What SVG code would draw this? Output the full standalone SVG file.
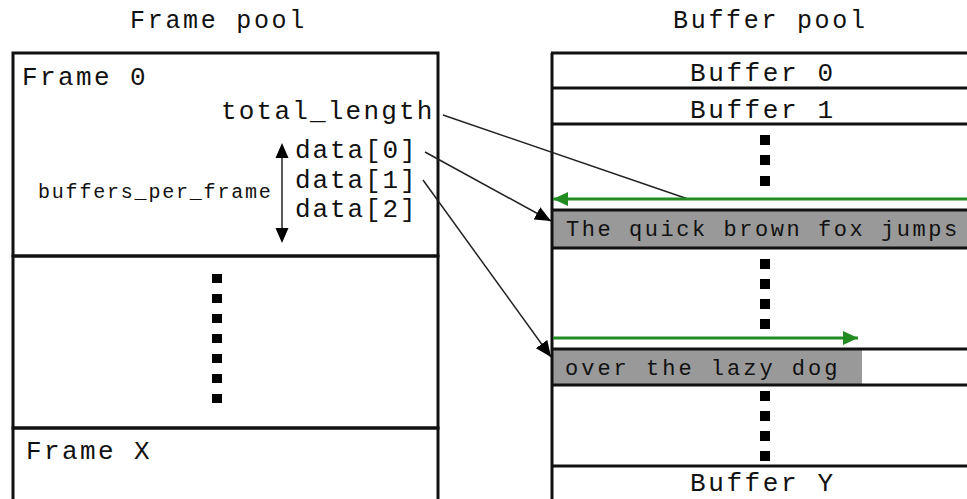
<svg xmlns="http://www.w3.org/2000/svg" width="967" height="499" viewBox="0 0 967 499">
<style>
.t{font-family:"Liberation Mono","DejaVu Sans Mono",monospace;fill:#111}
.big{font-size:25px;letter-spacing:2.7px}
.lab{font-size:26px;letter-spacing:2.2px}
.sm{font-size:20px;letter-spacing:1.8px}
.row{font-size:22px;letter-spacing:3px}
.box{fill:none;stroke:#111;stroke-width:3}
.ln{stroke:#111;stroke-width:3}
.dot{fill:#000}
.grey{fill:#999}
.con{stroke:#222;stroke-width:1.5;fill:none}
.grn{stroke:#228b22;stroke-width:3;fill:none}
</style>
<defs>
<marker id="ah" markerUnits="userSpaceOnUse" markerWidth="16" markerHeight="14" refX="16" refY="7" orient="auto">
<path d="M0,0 L16,7 L0,14 z" fill="#000"/>
</marker>
<marker id="gh" markerUnits="userSpaceOnUse" markerWidth="16" markerHeight="14" refX="15" refY="7" orient="auto">
<path d="M0,0 L15,7 L0,14 z" fill="#228b22"/>
</marker>
</defs>
<rect width="967" height="499" fill="#fff"/>

<text class="t big" x="130" y="28">Frame pool</text>
<text class="t big" x="673" y="28">Buffer pool</text>

<g id="frame0">
<rect class="box" x="13" y="53" width="425" height="203"/>
<text class="t lab" x="22" y="85" style="letter-spacing:2.4px">Frame 0</text>
<text class="t lab" x="221" y="119">total_length</text>
<text class="t lab" x="295" y="158" style="letter-spacing:1.9px">data[0]</text>
<text class="t lab" x="295" y="188" style="letter-spacing:1.9px">data[1]</text>
<text class="t lab" x="295" y="217" style="letter-spacing:1.9px">data[2]</text>
<text class="t sm" x="38" y="198">buffers_per_frame</text>
</g>
<g id="frames-gap">
<rect class="box" x="13" y="256" width="425" height="172"/>
<rect class="dot" x="212" y="274" width="10" height="9"/>
<rect class="dot" x="212" y="294" width="10" height="9"/>
<rect class="dot" x="212" y="314" width="10" height="9"/>
<rect class="dot" x="212" y="334" width="10" height="9"/>
<rect class="dot" x="212" y="354" width="10" height="9"/>
<rect class="dot" x="212" y="374" width="10" height="9"/>
<rect class="dot" x="212" y="394" width="10" height="9"/>
</g>
<g id="frameX">
<rect class="box" x="13" y="428" width="425" height="80"/>
<text class="t lab" x="26" y="459" style="letter-spacing:2.4px">Frame X</text>
</g>

<g id="buffer-pool">
<rect class="grey" x="552" y="210" width="420" height="38"/>
<rect class="grey" x="552" y="349" width="310" height="36"/>
<line class="ln" x1="552" y1="53" x2="552" y2="505"/>
<line class="ln" x1="551" y1="53" x2="970" y2="53"/>
<line class="ln" x1="551" y1="88" x2="970" y2="88"/>
<line class="ln" x1="551" y1="124" x2="970" y2="124"/>
<line class="ln" x1="551" y1="210" x2="970" y2="210"/>
<line class="ln" x1="551" y1="248" x2="970" y2="248"/>
<line class="ln" x1="551" y1="349" x2="970" y2="349"/>
<line class="ln" x1="551" y1="385" x2="970" y2="385"/>
<line class="ln" x1="551" y1="466" x2="970" y2="466"/>
</g>
<g id="buffer0"><text class="t lab" x="690" y="81" style="letter-spacing:2.6px">Buffer 0</text></g>
<g id="buffer1"><text class="t lab" x="690" y="118" style="letter-spacing:2.6px">Buffer 1</text></g>
<g id="buffers-gap1">
<rect class="dot" x="760" y="135" width="10" height="10"/>
<rect class="dot" x="760" y="155" width="10" height="10"/>
<rect class="dot" x="760" y="176" width="10" height="10"/>
</g>
<g id="buffer-fox"><text class="t row" x="566" y="236" style="letter-spacing:2.55px">The quick brown fox jumps</text></g>
<g id="buffers-gap2">
<rect class="dot" x="760" y="259" width="10" height="10"/>
<rect class="dot" x="760" y="279" width="10" height="10"/>
<rect class="dot" x="760" y="299" width="10" height="10"/>
<rect class="dot" x="760" y="319" width="10" height="10"/>
</g>
<g id="buffer-dog"><text class="t row" x="565" y="375" style="letter-spacing:3px">over the lazy dog</text></g>
<g id="buffers-gap3">
<rect class="dot" x="760" y="391" width="10" height="10"/>
<rect class="dot" x="760" y="411" width="10" height="10"/>
<rect class="dot" x="760" y="431" width="10" height="10"/>
<rect class="dot" x="760" y="451" width="10" height="10"/>
</g>
<g id="bufferY"><text class="t lab" x="690" y="491" style="letter-spacing:2.6px">Buffer Y</text></g>

<g id="connectors">
<line class="con" x1="443" y1="115" x2="688" y2="199"/>
<line class="con" x1="425" y1="152" x2="551" y2="221" marker-end="url(#ah)"/>
<line class="con" x1="423" y1="180" x2="551" y2="357" marker-end="url(#ah)"/>
<line class="con" x1="282" y1="150" x2="282" y2="236"/>
<path d="M282,143 L275.5,158 L288.5,158 z M282,243 L275.5,228 L288.5,228 z" fill="#000"/>
<line class="grn" x1="970" y1="199" x2="553" y2="199" marker-end="url(#gh)"/>
<line class="grn" x1="553" y1="338" x2="858" y2="338" marker-end="url(#gh)"/>
</g>
</svg>
